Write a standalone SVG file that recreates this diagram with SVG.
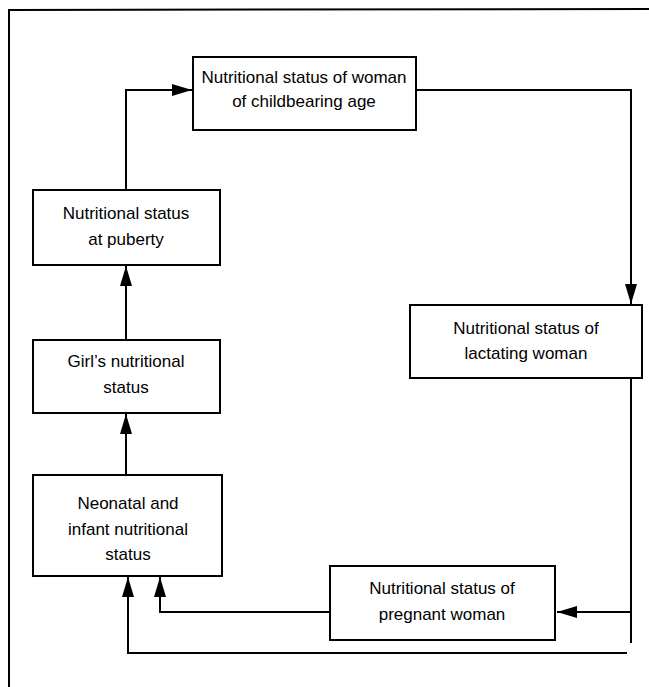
<svg xmlns="http://www.w3.org/2000/svg" width="649" height="687" viewBox="0 0 649 687">
<style>
.box{fill:#fff;stroke:#000;stroke-width:2}
.t{font-family:"Liberation Sans",Arial,sans-serif;font-size:17px;fill:#000;text-anchor:middle}
.c{fill:none;stroke:#000;stroke-width:2}
</style>
<defs>
<marker id="ah" viewBox="0 0 20 12" refX="20" refY="6" markerWidth="20" markerHeight="12" markerUnits="userSpaceOnUse" orient="auto">
<path d="M0,0 L20,6 L0,12 Z" fill="#000"/>
</marker>
</defs>
<rect width="649" height="687" fill="#fff"/>
<g id="frame" class="c">
<path d="M649,9 L9,10 L9,687"/>
</g>
<g id="connectors">
<path class="c" d="M126,190 L126,90 L192,90" marker-end="url(#ah)"/>
<path class="c" d="M416,90 L631,90 L631,304" marker-end="url(#ah)"/>
<path class="c" d="M631,378 L631,643"/>
<path class="c" d="M631,612 L557,612" marker-end="url(#ah)"/>
<path class="c" d="M330,612 L160,612 L160,577" marker-end="url(#ah)"/>
<path class="c" d="M627,653 L128,653 L128,577" marker-end="url(#ah)"/>
<path class="c" d="M126,475 L126,414" marker-end="url(#ah)"/>
<path class="c" d="M126,340 L126,266" marker-end="url(#ah)"/>
</g>
<g id="n-woman">
<rect class="box" x="193" y="57" width="223" height="73"/>
<text class="t" x="304" y="83">Nutritional status of woman</text>
<text class="t" x="304" y="107">of childbearing age</text>
</g>
<g id="n-puberty">
<rect class="box" x="33" y="190" width="187" height="75"/>
<text class="t" x="126" y="219">Nutritional status</text>
<text class="t" x="126" y="245">at puberty</text>
</g>
<g id="n-girl">
<rect class="box" x="33" y="340" width="187" height="73"/>
<text class="t" x="126" y="367">Girl’s nutritional</text>
<text class="t" x="126" y="393">status</text>
</g>
<g id="n-neonatal">
<rect class="box" x="33" y="475" width="189" height="101"/>
<text class="t" x="128" y="509">Neonatal and</text>
<text class="t" x="128" y="535">infant nutritional</text>
<text class="t" x="128" y="560">status</text>
</g>
<g id="n-lactating">
<rect class="box" x="410" y="305" width="232" height="73"/>
<text class="t" x="526" y="334">Nutritional status of</text>
<text class="t" x="526" y="359">lactating woman</text>
</g>
<g id="n-pregnant">
<rect class="box" x="330" y="566" width="225" height="74"/>
<text class="t" x="442" y="594">Nutritional status of</text>
<text class="t" x="442" y="620">pregnant woman</text>
</g>
</svg>
